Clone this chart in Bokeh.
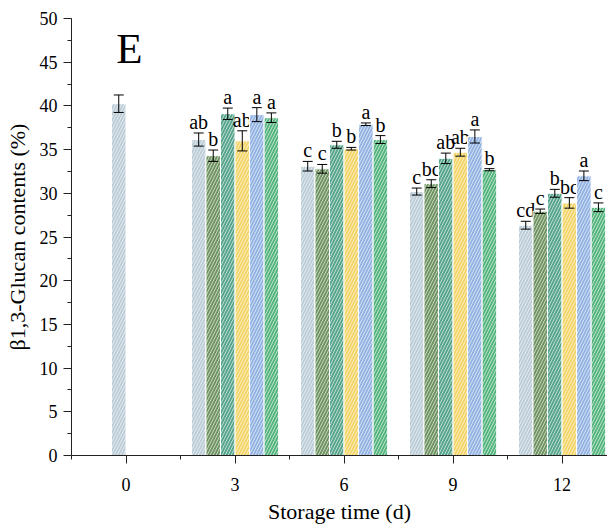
from bokeh.plotting import figure
from bokeh.models import ColumnDataSource, Whisker, TeeHead, Range1d, FixedTicker, Label
from bokeh.embed import file_html
from bokeh.resources import INLINE
from bokeh.core.properties import value

# ---- data ----
days = [0, 3, 6, 9, 12]
day_labels = ["0", "3", "6", "9", "12"]

# control at day 0
ctrl_day = [0]
ctrl_mean = [40.25]
ctrl_err = [1.0]

# six treatments, days 3..12
t_days = [3, 6, 9, 12]
s1_mean = [36.15, 33.1, 30.2, 26.35]
s1_err = [0.75, 0.55, 0.4, 0.45]
s1_sig = ["ab", "c", "c", "cd"]
s2_mean = [34.3, 32.8, 31.1, 27.95]
s2_err = [0.65, 0.5, 0.45, 0.25]
s2_sig = ["b", "c", "bc", "c"]
s3_mean = [39.1, 35.55, 34.0, 30.0]
s3_err = [0.65, 0.4, 0.6, 0.45]
s3_sig = ["a", "b", "ab", "b"]
s4_mean = [36.0, 35.1, 34.7, 28.9]
s4_err = [1.15, 0.15, 0.45, 0.6]
s4_sig = ["ab", "b", "ab", "bc"]
s5_mean = [39.0, 37.9, 36.5, 32.0]
s5_err = [0.8, 0.15, 0.75, 0.55]
s5_sig = ["a", "a", "a", "a"]
s6_mean = [38.65, 36.15, 32.7, 28.4]
s6_err = [0.55, 0.45, 0.12, 0.5]
s6_sig = ["a", "b", "b", "c"]

colors = ["#bccdd8", "#6f9462", "#57a58c", "#f2d467", "#93b3e3", "#55b57e"]

series = [
    (s1_mean, s1_err, s1_sig),
    (s2_mean, s2_err, s2_sig),
    (s3_mean, s3_err, s3_sig),
    (s4_mean, s4_err, s4_sig),
    (s5_mean, s5_err, s5_sig),
    (s6_mean, s6_err, s6_sig),
]

# ---- layout constants ----
BAR_W = 0.4
CTRL_OFFSET = -0.2
SERIF = "Liberation Serif"

p = figure(frame_width=536, frame_height=437, output_backend="svg", toolbar_location=None,
           x_range=Range1d(-1.5, 13.25), y_range=Range1d(0, 50),
           min_border_left=71, min_border_right=0, min_border_top=18, min_border_bottom=60)
p.outline_line_color = None
p.xgrid.visible = False
p.ygrid.visible = False
p.background_fill_color = "white"
p.border_fill_color = "white"

hatch_kw = dict(hatch_pattern="/", hatch_color="white", hatch_alpha=0.6,
                hatch_scale=6, hatch_weight=1)

def add_series(xs, means, errs, sigs, color):
    src = ColumnDataSource(dict(
        x=xs, top=means,
        upper=[m + e for m, e in zip(means, errs)],
        lower=[m - e for m, e in zip(means, errs)],
        sig=sigs,
    ))
    p.vbar(x="x", top="top", bottom=0, width=BAR_W, source=src,
           fill_color=color, line_color="white", line_width=1, **hatch_kw)
    w = Whisker(base="x", upper="upper", lower="lower", source=src,
                line_color="black", line_width=1, level="annotation",
                upper_head=TeeHead(size=10, line_color="black", line_width=1),
                lower_head=TeeHead(size=10, line_color="black", line_width=1))
    p.add_layout(w)
    p.text(x="x", y="upper", text="sig", source=src, text_align="center",
           text_baseline="bottom", text_font=value(SERIF), text_font_size="20px",
           text_color="black")

# control
add_series([d + CTRL_OFFSET for d in ctrl_day], ctrl_mean, ctrl_err, [""], colors[0])

for i, (m, e, s) in enumerate(series):
    off = -1.0 + BAR_W * i
    add_series([d + off for d in t_days], m, e, s, colors[i])

# panel letter
p.add_layout(Label(x=-0.27, y=46.6, text="E", text_font=SERIF, text_font_size="43px",
                   text_baseline="alphabetic", text_align="left", text_color="black"))

# axes
for ax in (p.xaxis[0], p.yaxis[0]):
    ax.axis_line_color = "#222222"
    ax.axis_line_width = 1
    ax.major_tick_line_color = "#222222"
    ax.minor_tick_line_color = "#222222"
    ax.major_tick_in = 0
    ax.major_tick_out = 8
    ax.minor_tick_in = 0
    ax.minor_tick_out = 4
    ax.major_label_text_font = SERIF
    ax.major_label_text_font_size = "18px"
    ax.major_label_text_color = "black"
    ax.axis_label_text_font = SERIF
    ax.axis_label_text_font_size = "22px"
    ax.axis_label_text_font_style = "normal"
    ax.axis_label_text_color = "black"

p.xaxis.ticker = FixedTicker(ticks=days, minor_ticks=[-1.5, 1.5, 4.5, 7.5, 10.5, 13.5])
p.xaxis.major_label_overrides = {d: l for d, l in zip(days, day_labels)}
p.xaxis.axis_label = "Storage time (d)"
p.xaxis.major_label_standoff = 14
p.xaxis.axis_label_standoff = 5

p.yaxis.ticker = FixedTicker(ticks=list(range(0, 51, 5)),
                             minor_ticks=[x * 2.5 for x in range(0, 21)])
p.yaxis.axis_label = "β1,3-Glucan contents (%)"
p.yaxis.major_label_standoff = 6
p.yaxis.axis_label_standoff = 7

open("out.html", "w").write(file_html(p, INLINE))
